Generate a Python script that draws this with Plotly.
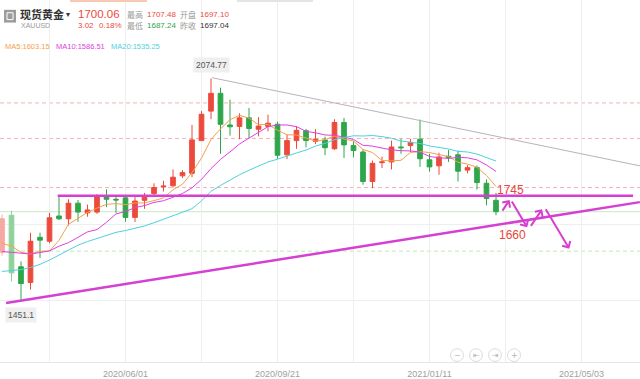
import plotly.graph_objects as go
import pandas as pd

# ---------------- data ----------------
week_start = "2020-03-02"
n_weeks = 53
opens  = [1586, 1690, 1545, 1501, 1628, 1617, 1688, 1680, 1724, 1697,
          1699, 1742, 1735, 1739, 1684, 1732, 1751, 1770, 1773, 1801,
          1808, 1900, 1983, 2033, 1944, 1940, 1964, 1932, 1940, 1946,
          1860, 1900, 1928, 1898, 1902, 1877, 1951, 1886, 1868, 1785,
          1838, 1840, 1882, 1886, 1904, 1846, 1829, 1856, 1860, 1817,
          1824, 1780, 1732]
highs  = [1692, 1703, 1560, 1641, 1641, 1697, 1742, 1735, 1733, 1720,
          1749, 1763, 1744, 1744, 1744, 1753, 1780, 1787, 1819, 1817,
          1944, 1983, 2074.77, 2049, 2015, 1977, 1992, 1966, 1973, 1953,
          1917, 1941, 1933, 1932, 1911, 1960, 1964, 1898, 1875, 1844,
          1855, 1900, 1905, 1905, 1959, 1863, 1866, 1874, 1872, 1831,
          1830, 1791, 1753]
lows   = [1576, 1504, 1451.1, 1481, 1570, 1611, 1677, 1661, 1672, 1686,
          1694, 1713, 1697, 1672, 1671, 1708, 1744, 1757, 1768, 1795,
          1797, 1900, 1960, 1863, 1914, 1904, 1906, 1912, 1926, 1849,
          1848, 1877, 1881, 1890, 1859, 1874, 1851, 1853, 1776, 1766,
          1823, 1819, 1863, 1868, 1826, 1813, 1804, 1840, 1785, 1808,
          1762, 1718, 1690]
closes = [1680, 1528, 1498, 1617, 1620, 1683, 1680, 1724, 1699, 1705,
          1742, 1735, 1733, 1684, 1730, 1741, 1768, 1772, 1797, 1810,
          1902, 1974, 2033, 1946, 1939, 1964, 1934, 1941, 1949, 1859,
          1900, 1929, 1900, 1904, 1880, 1951, 1888, 1872, 1785, 1836,
          1840, 1882, 1880, 1895, 1849, 1826, 1854, 1852, 1814, 1824,
          1782, 1737, 1700.06]

# moving-average values at the left edge (before enough weeks exist)
ma5_head  = [1611, 1603, 1586, 1581]
ma10_head = [1588, 1586, 1583, 1581, 1585, 1590, 1603, 1613, 1628]
ma20_head = [1532, 1534, 1537, 1543, 1552, 1564, 1578, 1592, 1606, 1616,
             1625, 1633, 1642, 1647, 1653, 1660, 1669, 1679, 1688]

# horizontal reference levels
resistance_level = 1745
current_price = 1700.06
pink_dashed_levels = [2006, 1906, 1768]
green_dashed_levels = [1589]
grid_levels = [1451.1, 1663.6]

# trend lines (date, price)
rising_line = [("2020-03-05", 1443), ("2021-06-15", 1727)]
falling_line = [("2020-08-03 18:00", 2077), ("2021-06-15", 1829)]
resistance_span = ["2020-04-12", "2021-06-10"]

# projected path arrows (start date, start price, end date, end price)
path_arrows = [
    ("2021-03-05", 1699, "2021-03-11", 1733),
    ("2021-03-12", 1733, "2021-03-24", 1656),
    ("2021-03-26", 1656, "2021-04-04", 1707),
    ("2021-04-06", 1711, "2021-04-24", 1596),
]
label_1745 = ("2021-03-12", "1745")
label_1660 = ("2021-03-13", "1660")

# x-axis ticks
grid_dates = ["2020-04-06", "2020-06-01", "2020-07-27", "2020-09-21",
              "2020-11-16", "2021-01-11", "2021-03-08", "2021-05-03"]
tick_texts = ["", "2020/06/01", "", "2020/09/21", "", "2021/01/11", "", "2021/05/03"]

# header texts
name_text = "现货黄金"
code_text = "XAUUSD"
last_text = "1700.06"
chg_text = "3.02"
pct_text = "0.18%"
high_text, open_text, low_text, prev_text = "1707.48", "1697.10", "1687.24", "1697.04"
ma_legend = [("MA5:1603.15", "#f5a04a"), ("MA10:1586.51", "#e040e0"), ("MA20:1535.25", "#4fd0dc")]

# ---------------- derived ----------------
dates = pd.date_range(week_start, periods=n_weeks, freq="7D")


def moving_avg(head, n):
    out = list(head)
    for i in range(len(head), len(closes)):
        out.append(sum(closes[i - n + 1:i + 1]) / n)
    return out


ma5 = moving_avg(ma5_head, 5)
ma10 = moving_avg(ma10_head, 10)
ma20 = moving_avg(ma20_head, 20)

RED = "#ec4a3c"
GREEN = "#2ea64a"
MAGENTA = "#d640d2"

W, H = 640, 379
PLOT_H = 369
px_per_day = 9.5 / 7
x_left = dates[0] - pd.Timedelta(days=2 / px_per_day)
x_right = x_left + pd.Timedelta(days=W / px_per_day)
price_per_px = 2.7596
y_top = 2074.77 + 80 * price_per_px
y_bot = 2074.77 - (PLOT_H - 80) * price_per_px

fig = go.Figure()

# faded first candles at the left edge
fig.add_trace(go.Candlestick(
    x=dates[:2], open=opens[:2], high=highs[:2], low=lows[:2], close=closes[:2],
    increasing=dict(line=dict(color="#f4aaa2", width=1), fillcolor="#f4aaa2"),
    decreasing=dict(line=dict(color="#8fd29c", width=1), fillcolor="#8fd29c"),
    hoverinfo="skip", showlegend=False))
fig.add_trace(go.Candlestick(
    x=dates[2:], open=opens[2:], high=highs[2:], low=lows[2:], close=closes[2:],
    increasing=dict(line=dict(color=RED, width=1), fillcolor=RED),
    decreasing=dict(line=dict(color=GREEN, width=1), fillcolor=GREEN),
    hoverinfo="skip", showlegend=False))

for vals, (_, col) in zip([ma5, ma10, ma20], ma_legend):
    fig.add_trace(go.Scatter(x=dates, y=vals, mode="lines",
                             line=dict(color=col, width=1), hoverinfo="skip",
                             showlegend=False))

shapes = []
for lv in pink_dashed_levels:
    shapes.append(dict(type="line", xref="paper", x0=0, x1=1, yref="y", y0=lv, y1=lv,
                       line=dict(color="#f3b3b3", width=1, dash="4px,3px"), layer="below"))
for lv in green_dashed_levels:
    shapes.append(dict(type="line", xref="paper", x0=0, x1=1, yref="y", y0=lv, y1=lv,
                       line=dict(color="#bfe8b4", width=1, dash="4px,3px"), layer="below"))
shapes.append(dict(type="line", xref="paper", x0=0, x1=1, yref="y", y0=current_price, y1=current_price,
                   line=dict(color="#c6eabd", width=1), layer="below"))
shapes.append(dict(type="line", xref="x", x0=resistance_span[0], x1=resistance_span[1],
                   yref="y", y0=resistance_level, y1=resistance_level,
                   line=dict(color=MAGENTA, width=2.5)))
shapes.append(dict(type="line", xref="x", x0=rising_line[0][0], x1=rising_line[1][0],
                   yref="y", y0=rising_line[0][1], y1=rising_line[1][1],
                   line=dict(color=MAGENTA, width=2.5)))
shapes.append(dict(type="line", xref="x", x0=falling_line[0][0], x1=falling_line[1][0],
                   yref="y", y0=falling_line[0][1], y1=falling_line[1][1],
                   line=dict(color="#b9b1bd", width=1)))


def pp(x, y):
    return x / W, 1 - y / PLOT_H


# top tab remnants
for (x0, x1, col) in [(70, 147, "#f8c9b2"), (237, 313, "#e4e4e4")]:
    a, _ = pp(x0, 0)
    b, _ = pp(x1, 0)
    shapes.append(dict(type="rect", xref="paper", yref="paper", x0=a, x1=b,
                       y0=1 - 2 / PLOT_H, y1=1, fillcolor=col, line=dict(width=0)))
# header icon
a, c = pp(4, 23)
b, d = pp(16, 10)
shapes.append(dict(type="rect", xref="paper", yref="paper", x0=a, x1=b, y0=c, y1=d,
                   fillcolor="#9c9c9c", line=dict(width=0)))
a, c = pp(7, 20)
b, d = pp(13, 13)
shapes.append(dict(type="rect", xref="paper", yref="paper", x0=a, x1=b, y0=c, y1=d,
                   fillcolor="rgba(0,0,0,0)", line=dict(color="white", width=1)))
# navigation buttons
for bx in [457, 476, 495, 514]:
    a, c = pp(bx - 6.5, 368.5)
    b, d = pp(bx + 6.5, 355.5)
    shapes.append(dict(type="circle", xref="paper", yref="paper", x0=a, x1=b, y0=c, y1=d,
                       line=dict(color="#dcdcdc", width=1), fillcolor="white"))

annotations = []


def txt(x, y, s, size, color, bold=False, anchor="left", family="Liberation Sans, Arial"):
    xp, yp = pp(x, y)
    annotations.append(dict(x=xp, y=yp, xref="paper", yref="paper", text=("<b>%s</b>" % s) if bold else s,
                            showarrow=False, xanchor=anchor, yanchor="middle", borderpad=0,
                            font=dict(size=size, color=color, family=family)))


CJK = "Noto Sans CJK SC, Liberation Sans"
txt(19, 14.5, name_text, 11, "#333333", bold=True, family=CJK)
txt(65, 15, "▾", 8, "#333333")
txt(19.5, 26.5, code_text, 7, "#9a9a9a")
txt(77, 14.5, last_text, 11.5, RED)
txt(77, 26, chg_text, 8, RED)
txt(98, 26, pct_text, 8, RED)
txt(126, 14.5, "最高", 8, "#9a9a9a", family=CJK)
txt(146, 14.5, high_text, 8, RED)
txt(179, 14.5, "开盘", 8, "#9a9a9a", family=CJK)
txt(199, 14.5, open_text, 8, RED)
txt(126, 26, "最低", 8, "#9a9a9a", family=CJK)
txt(146, 26, low_text, 8, GREEN)
txt(179, 26, "昨收", 8, "#9a9a9a", family=CJK)
txt(199, 26, prev_text, 8, "#333333")
for (s, col), lx in zip(ma_legend, [4, 55, 110]):
    txt(lx, 47, s, 7.5, col)
for bx, g in zip([457, 476, 495, 514], ["−", "⇤", "⇥", "+"]):
    txt(bx, 362, g, 8, "#b5b5b5", anchor="center", family="DejaVu Sans")

# max / min labels
imax = max(range(n_weeks), key=lambda i: highs[i])
imin = min(range(n_weeks), key=lambda i: lows[i])
annotations.append(dict(x=dates[imax], y=highs[imax], xref="x", yref="y", text="%.2f" % highs[imax],
                        showarrow=False, yshift=13, bgcolor="#efefef", borderpad=2,
                        font=dict(size=8.5, color="#555555", family="Liberation Sans, Arial")))
annotations.append(dict(x=dates[imin], y=lows[imin], xref="x", yref="y", text="%.1f" % lows[imin],
                        showarrow=False, yshift=-15, bgcolor="#efefef", borderpad=2,
                        font=dict(size=8.5, color="#555555", family="Liberation Sans, Arial")))

# projected path arrows
for (sx, sy, ex, ey) in path_arrows:
    annotations.append(dict(x=ex, y=ey, ax=sx, ay=sy, xref="x", yref="y", axref="x", ayref="y",
                            text="", showarrow=True, arrowhead=4, arrowsize=0.9, arrowwidth=2,
                            arrowcolor=MAGENTA, standoff=0, startstandoff=0))
annotations.append(dict(x=label_1745[0], y=resistance_level, xref="x", yref="y", text=label_1745[1],
                        showarrow=False, yshift=6, xanchor="center",
                        font=dict(size=12, color="#e8463a", family="Liberation Sans, Arial")))
annotations.append(dict(x=label_1660[0], y=float(label_1660[1]), xref="x", yref="y", text=label_1660[1],
                        showarrow=False, yshift=-9, xanchor="center",
                        font=dict(size=12, color="#e8463a", family="Liberation Sans, Arial")))

fig.update_layout(
    width=W, height=H,
    margin=dict(l=0, r=0, t=0, b=H - PLOT_H),
    paper_bgcolor="white", plot_bgcolor="white",
    showlegend=False,
    shapes=shapes, annotations=annotations,
    xaxis=dict(type="date", range=[x_left, x_right], rangeslider=dict(visible=False),
               tickvals=list(pd.to_datetime(grid_dates)), ticktext=tick_texts,
               showgrid=True, gridcolor="#eeeeee", gridwidth=1,
               showline=True, linecolor="#e6e6e6", ticks="", ticklabelstandoff=3,
               tickfont=dict(size=9, color="#a0a0a0", family="Liberation Sans, Arial"),
               zeroline=False, fixedrange=True),
    yaxis=dict(range=[y_bot, y_top], tickvals=grid_levels, showticklabels=False,
               showgrid=True, gridcolor="#eeeeee", gridwidth=1, zeroline=False, ticks="",
               fixedrange=True),
)

fig.write_html("out.html", config=dict(displayModeBar=False),
               post_script="document.body.style.margin='0';document.body.style.overflow='hidden';")
